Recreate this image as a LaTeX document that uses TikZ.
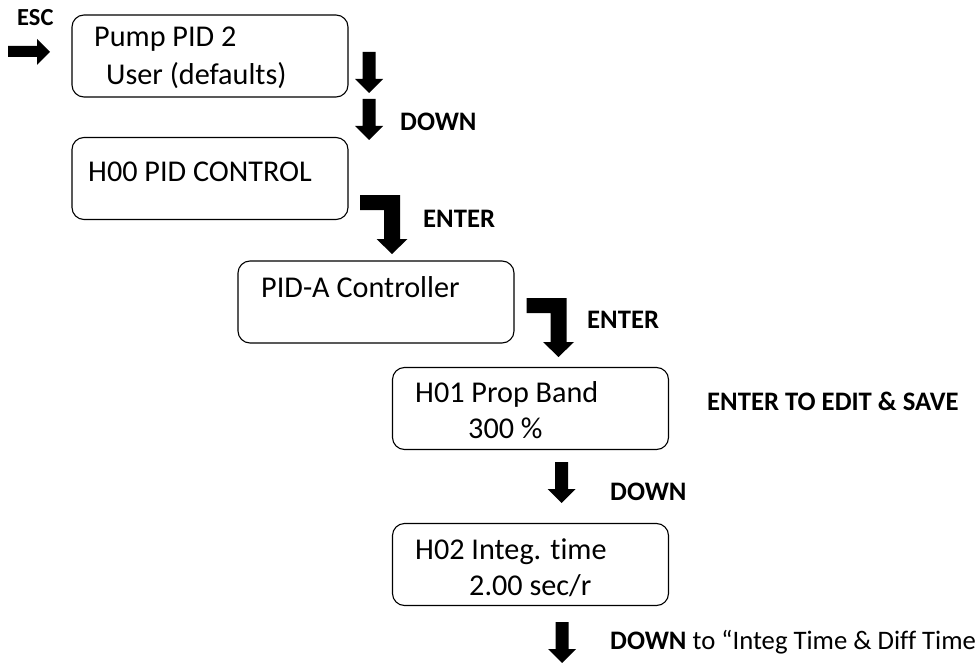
\documentclass[tikz,border=0pt]{standalone}
\usepackage{fontspec}
\setmainfont{Carlito}[RawFeature={-liga}]
\begin{document}
\begin{tikzpicture}[x=1pt,y=-1pt]
\tikzset{
  box/.style={draw, line width=1.1pt, rounded corners=12pt, minimum width=276pt, minimum height=82pt, inner sep=0pt},
  boxtxt/.style={anchor=base west, inner sep=0pt, font=\fontsize{30.2}{36}\selectfont},
  lbl/.style={anchor=base west, inner sep=0pt, font=\fontsize{26.7}{32}\selectfont\bfseries},
  lbltxt/.style={anchor=base west, inner sep=0pt, font=\fontsize{26.7}{32}\selectfont},
  downarr/.pic={\fill (-6.5,0) -- (6.5,0) -- (6.5,27) -- (14,27) -- (0,41) -- (-14,27) -- (-6.5,27) -- cycle;},
  bentarr/.pic={\fill (-32,0) -- (8,0) -- (8,44) -- (15.5,44) -- (0,59) -- (-15.5,44) -- (-8,44) -- (-8,15) -- (-32,15) -- cycle;}
}
\useasboundingbox (0,0) rectangle (976,663);

% boxes
\node[box] (b1) at (210,56) {};
\node[box] (b2) at (210,178.5) {};
\node[box] (b3) at (376,302) {};
\node[box] (b4) at (530.5,408.5) {};
\node[box] (b5) at (530.5,564.5) {};

% box texts
\node[boxtxt] (t1a) at (94,47) {Pump PID 2};
\node[boxtxt] (t1b) at (106,85) {User (defaults)};
\node[boxtxt] (t2) at (88,182) {H00 PID CONTROL};
\node[boxtxt] (t3) at (261,297) {PID-A Controller};
\node[boxtxt] (t4a) at (415,402) {H01 Prop Band};
\node[boxtxt] (t4b) at (468,438) {300 \%};
\node[boxtxt] (t5a) at (415,559) {H02 Integ. time};
\node[boxtxt] (t5b) at (469,595) {2.00 sec/r};

% labels
\node[lbl, font=\fontsize{24.5}{29}\selectfont\bfseries] (esc) at (17,26) {ESC};
\node[lbl] (l1) at (400,131) {DOWN};
\node[lbl] (l2) at (423,227) {ENTER};
\node[lbl] (l3) at (587,328) {ENTER};
\node[lbl] (l4) at (707,410) {ENTER TO EDIT \& SAVE};
\node[lbl] (l5) at (610,500) {DOWN};
\node[lbltxt] (l6) at (610,649) {\textbf{DOWN} to “Integ Time \& Diff Time};

% block arrows
\fill (8,46) -- (37,46) -- (37,39) -- (50,52) -- (37,65) -- (37,57) -- (8,57) -- cycle;
\pic at (369,52) {downarr};
\pic at (369,99) {downarr};
\pic at (392,195) {bentarr};
\pic at (558.5,298) {bentarr};
\pic at (561.5,462) {downarr};
\pic at (562,622) {downarr};
\end{tikzpicture}
\end{document}
